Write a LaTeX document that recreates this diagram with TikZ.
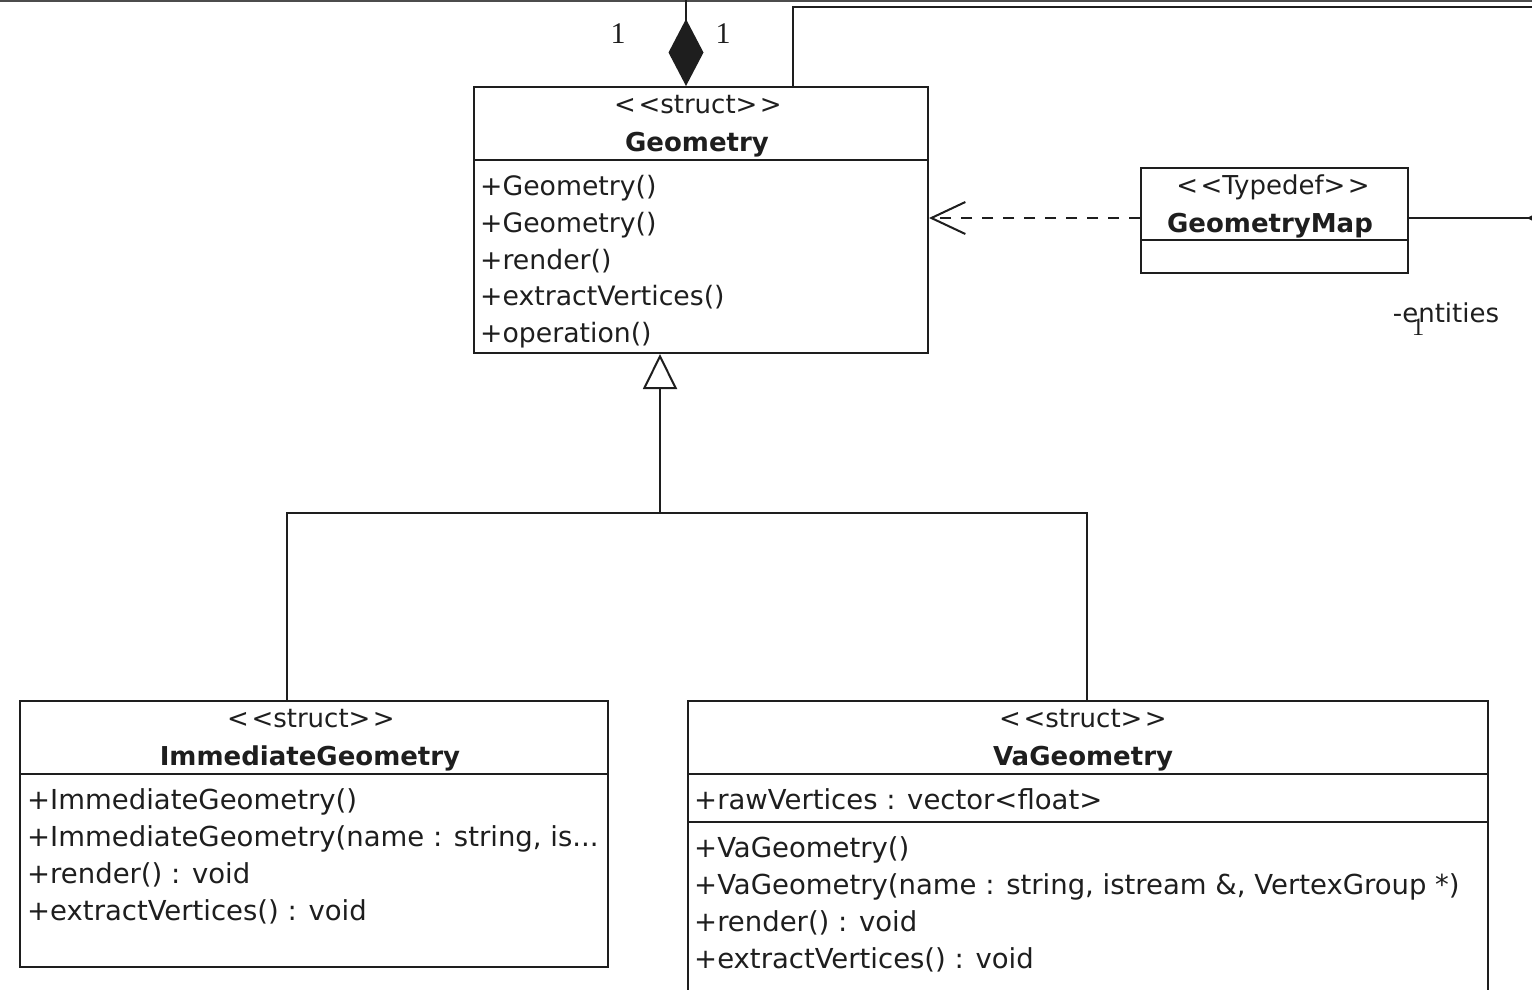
\documentclass[tikz,border=0pt]{standalone}
\usepackage{fontspec}
\setmainfont{DejaVu Sans}
\newfontfamily\numfont{Liberation Serif}
\usetikzlibrary{arrows.meta}
\definecolor{ink}{HTML}{1E1E1E}
\newcommand{\umlfont}{\fontsize{26}{37}\selectfont}
\newcommand{\topfont}{\fontsize{26.7}{37}\selectfont}
\newcommand{\lowfont}{\fontsize{27.5}{37}\selectfont}
\newcommand{\stereo}[1]{<\kern2.5pt<#1>\kern2.5pt>}
\tikzset{
  classbox/.style={draw=ink, line width=2pt, inner sep=0pt, anchor=north west},
  divider/.style={draw=ink, line width=2pt},
  wire/.style={draw=ink, line width=2pt},
  member/.style={anchor=base west, inner sep=0pt, text=ink, font=\topfont},
  lowmember/.style={anchor=base west, inner sep=0pt, text=ink, font=\lowfont},
  header/.style={anchor=base, inner sep=0pt, text=ink, font=\umlfont},
  title/.style={anchor=base, inner sep=0pt, text=ink, font=\umlfont\bfseries},
  mult/.style={anchor=base, inner sep=0pt, text=ink, font=\numfont\fontsize{30}{30}\selectfont},
}
\begin{document}
\begin{tikzpicture}[x=1pt,y=-1pt]
\useasboundingbox (0,0) rectangle (1532,989);
\clip (0,0) rectangle (1532,989);

% edge of the enclosing element above
\draw[gray!60!black, line width=1.5pt] (0,1) -- (1532,1);

% ---------- Geometry ----------
\node[classbox, minimum width=454pt, minimum height=266pt] (geom) at (473,86) {};
\draw[divider] (473,160) -- (927,160);
\node[header] (geomS) at (698,113) {\stereo{struct}};
\node[title]  (geomN) at (697,151) {Geometry};
\node[member] (gm1) at (480,195) {+Geometry()};
\node[member] (gm2) at (480,232) {+Geometry()};
\node[member] (gm3) at (480,269) {+render()};
\node[member] (gm4) at (480,305) {+extractVertices()};
\node[member] (gm5) at (480,342) {+operation()};

% ---------- GeometryMap ----------
\node[classbox, minimum width=267pt, minimum height=105pt] (gmap) at (1140,167) {};
\draw[divider] (1140,240) -- (1407,240);
\node[header] (gmapS) at (1273,194) {\stereo{Typedef}};
\node[title]  (gmapN) at (1270,232) {GeometryMap};

% ---------- ImmediateGeometry ----------
\node[classbox, minimum width=588pt, minimum height=266pt] (immg) at (19,700) {};
\draw[divider] (19,774) -- (607,774);
\node[header] (immgS) at (311,727) {\stereo{struct}};
\node[title]  (immgN) at (310,765) {ImmediateGeometry};
\node[lowmember] (im1) at (27,809) {+ImmediateGeometry()};
\node[lowmember] (im2) at (27,846) {+ImmediateGeometry(name : string, is...};
\node[lowmember] (im3) at (27,883) {+render() : void};
\node[lowmember] (im4) at (27,920) {+extractVertices() : void};

% ---------- VaGeometry ----------
\node[classbox, minimum width=800pt, minimum height=320pt] (vag) at (687,700) {};
\draw[divider] (687,774) -- (1487,774);
\draw[divider] (687,822) -- (1487,822);
\node[header] (vagS) at (1083,727) {\stereo{struct}};
\node[title]  (vagN) at (1083,765) {VaGeometry};
\node[lowmember] (va0) at (694,809) {+rawVertices : vector<float>};
\node[lowmember] (va1) at (694,857) {+VaGeometry()};
\node[lowmember] (va2) at (694,894) {+VaGeometry(name : string, istream \&, VertexGroup *)};
\node[lowmember] (va3) at (694,931) {+render() : void};
\node[lowmember] (va4) at (694,968) {+extractVertices() : void};

% ---------- connectors ----------
% composition towards the element above
\coordinate (compTop) at (686,0);
\draw[wire, {Diamond[length=67pt, width=35pt, fill=ink]}-] (geom.north -| compTop) -- (compTop);
\node[mult] (m1) at (618,43) {1};
\node[mult] (m2) at (723,43) {1};

% association leaving to the right along the top
\coordinate (bend) at (793,7);
\coordinate (offR) at (1540,7);
\draw[wire] (geom.north -| bend) -- (bend) -- (offR);

% dependency GeometryMap -> Geometry
\draw[wire, dash pattern=on 11pt off 10pt,
      -{Straight Barb[length=34pt, width=32pt, line width=2pt]}]
  (gmap.west |- 0,218) -- (geom.east |- 0,218);

% association from GeometryMap to the right
\coordinate (mapR) at (1594,218);
\draw[wire, -{Diamond[length=67pt, width=35pt, fill=ink]}] (gmap.east |- 0,218) -- (mapR);
\node[anchor=base, inner sep=0pt, text=ink, font=\umlfont] (ent) at (1446,322) {-entities};
\node[anchor=base, inner sep=0pt, text=ink, font=\numfont\fontsize{25}{25}\selectfont] (m3) at (1418,335) {1};

% generalisation
\coordinate (joint) at (660,513);
\coordinate (ibranch) at (287,513);
\coordinate (vbranch) at (1087,513);
\draw[wire, -{Triangle[open, length=35pt, width=34pt, line width=2pt, fill=white]}]
  (joint) -- (geom.south -| joint);
\draw[wire] (immg.north -| ibranch) -- (ibranch) -- (vbranch) -- (vag.north -| vbranch);
\end{tikzpicture}
\end{document}
